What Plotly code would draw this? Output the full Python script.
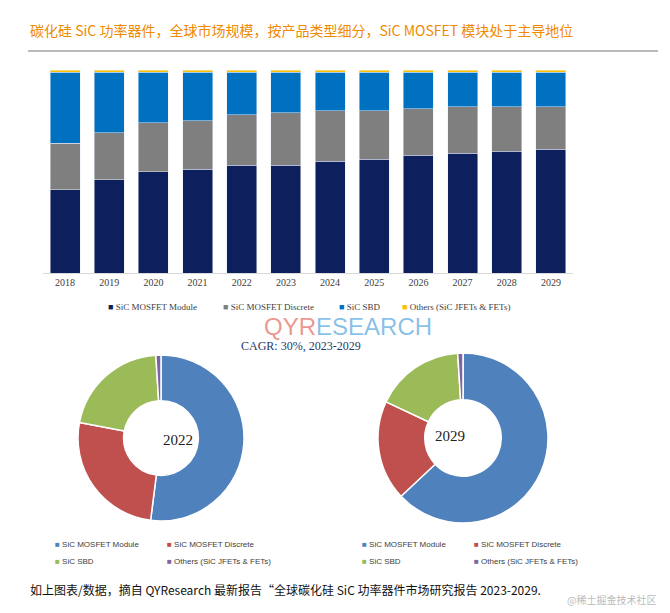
import plotly.graph_objects as go

years = [str(y) for y in range(2018, 2030)]
module = [41, 46, 50, 51, 53, 53, 55, 56, 58, 59, 60, 61]
discrete = [23, 23, 24, 24, 25, 26, 25, 24, 23, 23, 22, 21]
others = [1] * 12
sbd = [100 - a - b - c for a, b, c in zip(module, discrete, others)]

pie_labels = ["SiC MOSFET Module", "SiC MOSFET Discrete", "SiC SBD", "Others (SiC JFETs & FETs)"]
pie_2022 = [52, 26, 21, 1]
pie_2029 = [63, 19, 17, 1]

bar_colors = ["#0d1f5c", "#7f7f7f", "#0070c0", "#ffc000"]
pie_colors = ["#4f81bd", "#c0504d", "#9bbb59", "#8064a2"]
bar_names = ["SiC MOSFET Module", "SiC MOSFET Discrete", "SiC SBD", "Others (SiC JFETs & FETs)"]

def px(x): return x / 670
def py(y): return 1 - y / 613

fig = go.Figure()
for name, vals, c in zip(bar_names, [module, discrete, sbd, others], bar_colors):
    fig.add_trace(go.Bar(x=years, y=vals, name=name, marker_color=c, width=0.68, showlegend=False))

for vals, (x0, x1, y0, y1) in [(pie_2022, (70, 236, 347, 513)), (pie_2029, (369, 541, 345, 515))]:
    fig.add_trace(go.Pie(values=vals, labels=pie_labels, hole=0.45, sort=False, direction="clockwise",
                         rotation=0, domain=dict(x=[px(x0), px(x1)], y=[py(y1), py(y0)]),
                         marker=dict(colors=pie_colors, line=dict(color="white", width=1.5)),
                         textinfo="none", showlegend=False))

fig.update_layout(
    width=670, height=613, margin=dict(l=0, r=0, t=0, b=0), barmode="stack",
    plot_bgcolor="white", paper_bgcolor="white",
    xaxis=dict(domain=[px(35), px(565)], tickfont=dict(family="Liberation Serif", size=10, color="#404040"),
               showline=True, linecolor="#d9d9d9", ticks=""),
    yaxis=dict(domain=[py(265), py(62)], range=[0, 100], visible=False),
)

ann = [dict(x=px(20), y=py(22), xref="paper", yref="paper",
            text="碳化硅 SiC 功率器件，全球市场规模，按产品类型细分，SiC MOSFET 模块处于主导地位",
            showarrow=False, xanchor="left", yanchor="middle",
            font=dict(family="Noto Sans CJK SC", size=14, color="#f08a00"))]

def leg(x, y, color, text, size=9, fam="Liberation Serif"):
    return dict(x=px(x), y=py(y), xref="paper", yref="paper", showarrow=False, xanchor="left", yanchor="middle",
                text=f"<span style='color:{color}'>■</span> {text}", font=dict(family=fam, size=size, color="#404040"))

for x, c, t in zip([98, 213, 329, 392], bar_colors, ["SiC MOSFET Module", "SiC MOSFET Discrete", "SiC SBD", "Others (SiC JFETs &amp; FETs)"]):
    ann.append(leg(x, 299, c, t))

for bx in [45, 352]:
    for (dx, dy), c, t in zip([(0, 536), (112, 536), (0, 553), (112, 553)], pie_colors,
                              ["SiC MOSFET Module", "SiC MOSFET Discrete", "SiC SBD", "Others (SiC JFETs &amp; FETs)"]):
        ann.append(leg(bx + dx, dy, c, t, size=8, fam="Liberation Sans"))

ann.append(dict(x=px(153), y=py(442), xref="paper", yref="paper", text="2022", showarrow=False,
                font=dict(family="Liberation Serif", size=15, color="#222")))
ann.append(dict(x=px(459), y=py(438), xref="paper", yref="paper", text="2029", showarrow=False,
                font=dict(family="Liberation Serif", size=15, color="#222")))
ann.append(dict(x=px(293), y=py(338), xref="paper", yref="paper", text="CAGR: 30%, 2023-2029", showarrow=False,
                font=dict(family="Liberation Serif", size=12, color="#1f3864")))
ann.append(dict(x=px(340), y=py(318), xref="paper", yref="paper",
                text="<span style='color:rgba(220,60,50,0.55)'>QYR</span><span style='color:rgba(30,140,210,0.55)'>ESEARCH</span>",
                showarrow=False, font=dict(family="Liberation Sans", size=24)))
ann.append(dict(x=px(20), y=py(592), xref="paper", yref="paper", xanchor="left",
                text="如上图表/数据，摘自 QYResearch 最新报告“全球碳化硅 SiC 功率器件市场研究报告 2023-2029.",
                showarrow=False, font=dict(family="Noto Sans CJK SC", size=12, color="#111")))
ann.append(dict(x=px(650), y=py(601), xref="paper", yref="paper", xanchor="right",
                text="@稀土掘金技术社区", showarrow=False, font=dict(family="Noto Sans CJK SC", size=10, color="#bbb")))
fig.update_layout(annotations=ann,
                  shapes=[dict(type="line", xref="paper", yref="paper", x0=px(20), x1=px(650), y0=py(43), y1=py(43),
                               line=dict(color="#777", width=1))])
fig.write_html("out.html")
